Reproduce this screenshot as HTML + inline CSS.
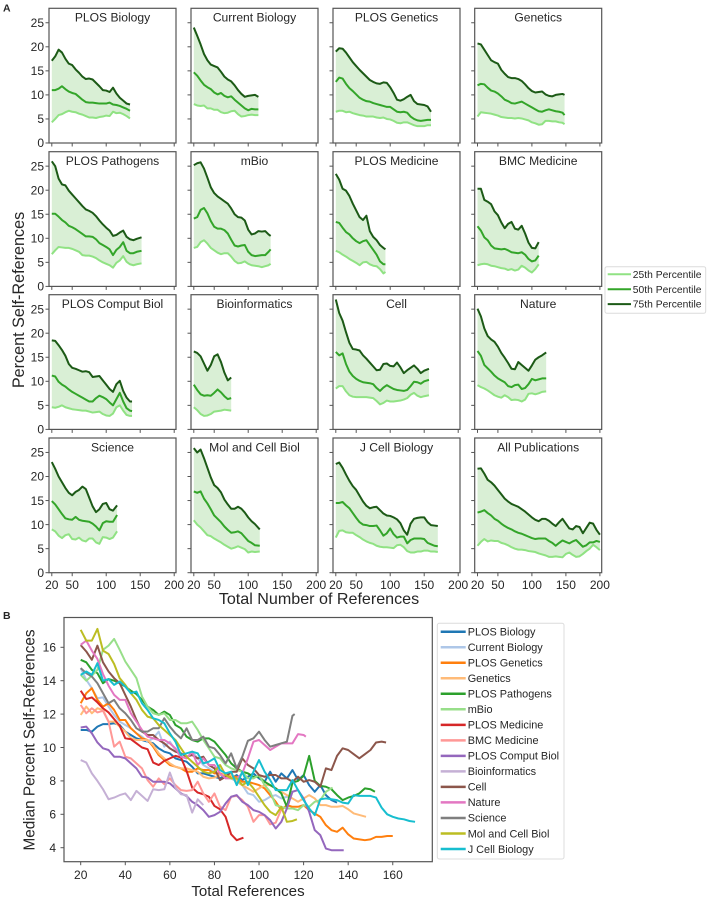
<!DOCTYPE html>
<html lang="en">
<head>
<meta charset="utf-8">
<title>Percent Self-References by Journal</title>
<style>
html,body{margin:0;padding:0;background:#fff;width:708px;height:899px;overflow:hidden}
svg{display:block;font-family:"Liberation Sans",Arial,sans-serif}
text{fill:#262626}
</style>
</head>
<body>
<svg id="figure" xmlns="http://www.w3.org/2000/svg" width="708" height="899" viewBox="0 0 708 899"></svg>
<script>
// ---------- DATA: panel A values sampled every 5 references starting at 20 ----------
const journalNames = ["PLOS Biology","Current Biology","PLOS Genetics","Genetics","PLOS Pathogens","mBio","PLOS Medicine","BMC Medicine","PLOS Comput Biol","Bioinformatics","Cell","Nature","Science","Mol and Cell Biol","J Cell Biology","All Publications"];
const lastReference = [135,115,160,148,152,133,93,110,138,75,157,121,116,117,170,200];
const panelXTicks = [20,50,100,150,200];
const panelYTicks = [0,5,10,15,20,25];
const medianXTicks = [20,40,60,80,100,120,140,160];
const medianYTicks = [4,6,8,10,12,14,16];
const percentileLabels = ["25th Percentile","50th Percentile","75th Percentile"];

const plosBiologyP75 = [17.1,18,19.4,18.8,17.5,16.5,16.2,15.3,14.6,13.8,13.3,13.4,13.2,12.5,11.8,11,10.9,10.6,11.5,10.3,9.4,8.8,8.2,8];
const plosBiologyP50 = [11,11,11.3,11.8,11.2,10.7,10.4,10.2,9.6,9,8.5,8.4,8.4,8.3,8.2,8.2,8.2,8.4,8,7.9,7.7,7.4,7.1,6.7];
const plosBiologyP25 = [4.3,5,5.8,6,6.4,6.7,6.5,6.4,6.1,5.9,5.6,5.3,5.3,5.2,5.4,5.5,5.7,5.6,6.5,6.2,6.3,6,5.6,5.1];

const currentBiologyP75 = [24,22.3,20.5,18.5,17.2,16.3,16,15.7,14.8,13.8,13.2,12.8,12,11,10.2,9.6,9.8,9.9,10,9.6];
const currentBiologyP50 = [14.7,14,13,12.1,11.6,11.2,10.5,10.1,10.4,9.8,9.5,9.7,9,8.4,7.8,7.2,6.8,7.1,7,7];
const currentBiologyP25 = [8.1,7.8,7.7,7.8,7.2,7.2,6.9,6.9,6.4,6.2,6.3,6.6,6.7,6,5.5,5.6,5.8,5.9,5.8,5.8];

const plosGeneticsP75 = [19,19.7,19.6,18.8,17.8,16.8,16,15.2,14.5,13.8,13.1,12.7,12.4,12.3,12.6,12.5,11.6,10.4,9,8.8,9.1,9.6,10,8.7,8.1,8,7.9,7.6,6.5];
const plosGeneticsP50 = [12.7,13.6,13.4,12.3,11.4,10.8,10.1,9.4,9,8.7,8.6,8.3,8.1,7.9,7.7,7.5,7.5,7,6.5,6.4,6.5,6.3,5.5,5,4.7,4.6,4.7,4.8,4.8];
const plosGeneticsP25 = [6.5,6.7,6.7,6.4,6.5,6.2,6,5.8,5.7,5.5,5.5,5.5,5.3,5.2,5.3,5,4.9,4.6,4.2,4.1,4.3,4.3,4,3.7,3.5,3.5,3.5,3.7,3.7];

const geneticsP75 = [20.7,20.5,19.4,18.3,17.2,16.8,16.5,15.2,14.4,13.7,13.5,13.5,13.3,12.9,12.2,11.4,10.8,10.5,10.6,10.7,10.1,9.8,9.7,10,10.1,10.2,10];
const geneticsP50 = [12,12.3,12.2,11.5,10.9,10.7,10.3,9.7,9,8.7,8.3,8.2,8.4,8.6,8.2,7.8,7.4,7,6.6,6.5,6.8,7,6.8,6.6,6.5,6.3,5.8];
const geneticsP25 = [5.5,6.4,6.3,6.2,6.1,5.9,5.7,5.4,5.3,5.2,5.2,5.1,5.2,5.1,4.9,4.7,4.3,4.1,3.8,3.9,4.6,4.6,4.5,4.5,4.3,4.2,3.9];

const plosPathogensP75 = [26,25,22.4,21.2,21,19.9,19.1,18.3,17.5,16.7,16,15.7,15.3,14.6,13.7,12.9,12.2,11.6,10.5,10.7,11.2,11.6,10.3,9.8,9.6,9.9,10.2];
const plosPathogensP50 = [15.1,15.1,14.5,13.8,13.3,12.6,12.3,11.9,11.4,10.9,10.4,10.4,10.3,9.8,9,8.6,8.2,7.7,6.5,7.6,8.2,9.2,7.4,6.9,6.9,7.2,7.4];
const plosPathogensP25 = [6.7,7.5,8.2,8.1,8,8,7.8,7.5,7.2,6.5,6.4,6.4,6.2,5.9,5.4,5,4.7,4.4,3.9,4.9,5.4,6.3,5.1,4.6,4.4,4.6,4.8];

const mBioP75 = [25.2,25.6,25.8,24.5,22.6,20.6,19.4,18.7,18.2,17.7,17.2,16.2,15,14.4,14.3,13.7,11.8,10.8,11,11.5,11.4,11.5,10.8,10.5];
const mBioP50 = [14.1,14.4,15.9,16.3,15.2,13.6,12.4,12,12,11.7,11,9.7,8.5,8.3,8.5,8.6,7.2,6.5,6.3,6.4,6.5,6.5,7.2,7.7];
const mBioP25 = [8,8.2,9.2,9.6,8.9,8,7.5,7,6.7,6.9,6.9,6.2,5.3,4.8,4.9,5.2,4.7,4.4,4.3,4.2,4,4.2,4.4,4.7];

const plosMedicineP75 = [23.4,22.2,20.3,19.9,18.8,17.2,15.8,14.4,13.8,14.7,11.5,10.3,9.6,8.6,8,7.7];
const plosMedicineP50 = [13.4,13.2,12.2,11.3,10.8,10,9.4,9,9.4,9.6,8.6,7.6,6.6,5.2,4.6,4.6];
const plosMedicineP25 = [7.4,7.1,6.6,6.2,5.7,5.3,4.9,4.4,5,5.1,4.6,4.3,4.2,3.6,2.7,3];

const bmcMedicineP75 = [20.3,20.3,18,17.6,17.1,15.6,14.8,13.3,12.1,13,13.4,12,11.8,12.6,11,9.1,8,7.9,9.2];
const bmcMedicineP50 = [12.5,11.6,10.2,9.6,8.5,7.9,7.8,7.7,7.8,7.5,7.1,7,6.9,7.1,6.6,5.7,5.2,5.4,6.4];
const bmcMedicineP25 = [4.4,4.6,4.7,4.6,4.3,4.2,4,3.8,3.7,3.4,3.6,3.3,3.5,4.3,3.9,3.3,2.9,3.6,4.6];

const plosComputBiolP75 = [18.5,18.4,17.5,16.5,15.3,13.6,12.8,12.6,12.3,12,12.1,11.9,10.9,11,11.1,10.2,9.3,8.4,7.8,9.4,10.1,8,6.6,5.8,5.8];
const plosComputBiolP50 = [11.2,11,9.9,9.3,8.9,8.3,7.8,7.4,7,6.6,6.2,5.8,5.8,6.5,7,6.7,6.3,5.6,5,6.3,7.6,5.8,4.4,3.9,3.8];
const plosComputBiolP25 = [4.6,4.5,4.7,5,4.6,4.4,4.2,4.1,4,3.9,3.9,3.7,3.5,3.6,3.7,3.2,2.9,2.8,3.3,4.6,5,3.9,3,2.8,2.8];

const bioinformaticsP75 = [16.2,15.9,15.2,13.7,12.2,13.4,15.2,15.6,14,11.8,10.2,10.8];
const bioinformaticsP50 = [9.3,8.2,7.3,7,7.1,7,7.6,8.3,7.7,6.9,6.3,6.5];
const bioinformaticsP25 = [4.6,4,3.2,2.8,2.9,3.2,3.7,3.8,3.9,4.1,4,3.9];

const cellP75 = [27,24.2,22.6,20.2,18,16.7,16.6,16.4,15.4,14.7,13.9,13.1,12.3,12.4,13.6,13.7,13.2,13.1,13.9,12.9,11.7,12.3,12.8,13.3,12.6,11.7,12.2,12.6];
const cellP50 = [16.1,15.4,15.8,13.6,12,11.1,10.5,10.1,9.8,9.7,9.6,9.4,8.6,8,8.7,9.2,8.8,8.4,8.2,8.1,8,8.2,9,9.9,9.8,9.5,10,10.3];
const cellP25 = [8.5,9,9,7.9,7.1,6.8,6.7,6.7,6.7,6.7,6.6,6.5,5.9,5.2,5.5,6,5.8,5.8,5.9,6,6.2,6.5,7.2,7.6,7,6.7,6.9,7.1];

const natureP75 = [25.1,23.5,21,19.4,18.7,18.2,17.2,15.9,14.9,13.8,12.6,12.5,14,13.4,12.8,12.2,13.3,14.5,15,15.4,16];
const natureP50 = [16.3,15.3,13.4,12.7,12,11.2,10.6,10.2,9.8,9,8.8,9.2,9.3,8.4,8.6,9.4,10.5,10.2,10.4,10.6,10.6];
const natureP25 = [9.2,8.8,8.5,8.1,7.6,7.1,6.8,6.6,7.1,6.7,6.1,6.2,6.1,5.8,6.2,7.4,7.5,7.3,7.5,7.8,7.9];

const scienceP75 = [23,21.6,20,18.8,17.6,16.6,16.1,16.8,17.2,17.9,17.4,15.6,13.8,12.6,13.2,14.3,14.5,13.2,12.9,14];
const scienceP50 = [14.9,14.2,13.2,12.2,11.3,11.1,11,11.6,11,10.8,10.7,10.6,10.2,9.6,8.8,10.3,10.7,10.6,10.6,12];
const scienceP25 = [9,8.6,7.7,7.2,7.8,8,7,6.9,7.3,6.7,6.5,7.1,7.1,6.3,6,7.4,7.3,7,7.3,8.6];

const molCellBiolP75 = [25.9,25,25.6,23.8,21.8,19.8,18.2,17.6,16.7,15.2,14.2,13.3,13.3,13.7,13.3,12.5,11.5,10.7,10.1,9];
const molCellBiolP50 = [16.9,16.6,16.9,15.4,14.4,13.2,11.9,11.2,10.5,9.6,8.9,8.3,8.4,8.6,8.2,7.4,6.6,6.2,5.7,5.6];
const molCellBiolP25 = [10.9,10,9.4,8.6,7.8,7.6,7.1,6.7,6.3,5.8,5.4,5,5.2,5.5,5.2,4.9,4.2,4.4,4.3,4.4];

const jCellBiologyP75 = [22.6,22.9,21.8,20.4,19.1,18,17.2,16,14.8,13.9,13.4,13.6,13.7,13,12.3,11.9,11.8,11.5,11.1,10.3,8.8,7.9,10.2,11.2,11.4,11.5,11.5,10.5,9.9,9.8,9.7];
const jCellBiologyP50 = [14.5,14.5,14.7,14,13.4,12.4,11.4,10.5,10,9.9,9.7,9.7,9.8,8.8,7.7,8.2,9.2,8,7.3,7.5,7.5,6.1,6.8,7.1,7.1,7.1,7,6.2,5.9,5.6,5.5];
const jCellBiologyP25 = [7.3,8.7,8.8,8.4,8.3,8.3,7.8,7.4,6.9,6.5,6.2,6,5.6,5.4,5.3,5.3,5.2,5.1,5.7,5.8,5.3,4.5,4.2,4.2,4.4,4.4,4.6,4.6,4.4,4.4,4.3];

const allPublicationsP75 = [21.6,21.7,20.6,19.3,18.8,18.1,17.2,16.3,15.4,14.8,14.3,14,13.7,13.2,12.7,12.1,11.5,11,10.7,11.2,11.2,10.8,10.2,9.7,10.5,11.2,10.2,9.2,9,9.7,9.5,8.2,9.3,10.4,10.2,8.9,7.9];
const allPublicationsP50 = [12.5,12.7,13,12.4,11.9,11.2,10.8,10.2,9.7,9.3,9,8.6,8.3,8.1,7.8,7.5,7.2,7,7.1,7.1,7.1,6.6,6.2,5.6,6.2,6.7,6.4,6.1,6.5,6.8,6.1,5.4,5.7,6.3,6.3,6.6,6.4];
const allPublicationsP25 = [5.6,6.4,7,6.5,6.7,6.6,6.6,6.2,6,5.7,5.3,5,4.8,4.8,4.7,4.5,4.4,4.3,4,3.8,3.6,3.3,3.3,3.4,3.3,3.2,3.9,4.2,3.7,3.3,3.4,3.9,4.5,5,5.8,5.3,4.7];

const seriesP75 = [plosBiologyP75,currentBiologyP75,plosGeneticsP75,geneticsP75,plosPathogensP75,mBioP75,plosMedicineP75,bmcMedicineP75,plosComputBiolP75,bioinformaticsP75,cellP75,natureP75,scienceP75,molCellBiolP75,jCellBiologyP75,allPublicationsP75];
const seriesP50 = [plosBiologyP50,currentBiologyP50,plosGeneticsP50,geneticsP50,plosPathogensP50,mBioP50,plosMedicineP50,bmcMedicineP50,plosComputBiolP50,bioinformaticsP50,cellP50,natureP50,scienceP50,molCellBiolP50,jCellBiologyP50,allPublicationsP50];
const seriesP25 = [plosBiologyP25,currentBiologyP25,plosGeneticsP25,geneticsP25,plosPathogensP25,mBioP25,plosMedicineP25,bmcMedicineP25,plosComputBiolP25,bioinformaticsP25,cellP25,natureP25,scienceP25,molCellBiolP25,jCellBiologyP25,allPublicationsP25];

// ---------- DATA: panel B medians sampled every 2.5 references starting at 20 ----------
const medianPlosBiology = [11.05,11.05,10.95,11.25,11.4,11.4,11.45,11.35,10.95,10.75,10.55,10.45,10.35,10.25,9.95,9.75,9.65,9.35,9.25,9.15,8.85,8.45,8.45,8.35,8.25,8.15,8.35,8.15,8.35,8.05,8.25,8.45,8.15,7.95,8.55,7.95,8.45,8.15,8.65,8.05,8.35,7.75,7.35,7.75,7.15,6.85,6.7];
const medianCurrentBiology = [14.75,14.05,13.55,12.95,13,12.45,11.95,11.55,11.35,11.15,10.85,10.65,10.35,10.55,10.95,10.05,10.35,9.85,9.45,9.35,9.75,9.35,8.95,8.75,8.55,8.35,8.35,8.15,7.95,7.75,7.25,7.15,6.75,6.85,7.05,7.15,6.95,7.05,6.95];
const medianPlosGenetics = [12.65,13.25,13.55,12.85,12.45,12.65,12.25,11.65,11.65,11.15,10.85,10.55,10.45,10.05,9.55,9.25,8.95,8.85,8.75,8.55,8.55,8.75,8.65,8.65,8.45,8.45,8.35,8.25,8.25,7.95,7.95,7.85,7.75,7.55,7.15,6.75,6.25,6.55,6.45,6.45,6.55,6.25,6.05,5.85,5.35,5.05,4.95,5.2,4.8,4.55,4.5,4.45,4.5,4.65,4.65,4.7,4.7];
const medianGenetics = [11.95,12.45,12.05,12.35,12.25,11.55,11.55,11.25,10.95,10.55,10.45,10.45,10.45,10.15,9.65,9.35,9.05,8.85,8.75,8.75,8.65,8.55,8.25,8.15,8.2,8.35,8.45,8.35,7.95,7.75,7.55,7.35,7.55,7.75,7.75,7.55,7.35,7.15,6.95,6.75,6.95,7.15,6.95,6.55,6.55,6.45,6.45,6.5,6.3,6.05,5.85];
const medianPlosPathogens = [15.25,15.1,14.65,14.45,13.85,14.1,14,13.85,13.65,13.4,13.2,12.85,12.45,12.25,11.95,12.15,11.95,11.35,11.15,10.65,10.45,10.35,10.55,10.55,10.35,9.95,9.55,9.05,8.75,8.55,8.45,8.25,8.25,7.95,7.75,7.55,7.25,6.45,7.9,8,8.3,9.5,8,7.7,7.65,7.5,7.15,6.85,7,7.1,7.25,7.55,7.5,7.35];
const medianMBio = [14.35,14,14.3,14.65,15.85,16.1,16.5,15.85,15.15,14.65,14.15,13.05,12.45,12.05,11.95,12.05,11.65,11.65,11.45,11.45,11.55,11.05,10.45,9.95,9.45,9.35,8.95,8.75,8.65,8.55,8.15,8.15,8.35,7.75,7.35,6.55,6.45,6.35,6.35,6.25,6.55,6.45,6.75,6.85,7.35,7.6];
const medianPlosMedicine = [13.4,12.9,13,12.7,12.35,12.1,11.7,11.3,10.55,10.5,10.25,10,9.9,9.1,8.95,9.2,9.35,9.5,9.4,8.6,7.6,7.3,7.2,7.05,6.5,6.3,5.85,4.8,4.45,4.6];
const medianBmcMedicine = [12.55,12.05,12.35,12.1,12.2,11.55,10.05,10.35,9.45,9.35,9.05,8.75,8.05,7.65,8.15,7.8,8.15,7.75,7.45,7.4,7.45,7.95,7.25,6.75,7.25,6.45,6.25,7.05,7.1,6.85,6.45,5.55,5.95,5.95,5.4,5.5,6.3];
const medianPlosComputBiol = [11.2,11.25,10.85,10.3,9.95,9.85,9.45,9.45,9.35,9.05,8.75,8.25,8.2,7.95,7.95,7.95,7.85,7.55,7.25,7.1,6.75,6.55,6.25,5.85,5.95,6.15,6.65,7.05,7.15,6.75,6.55,6.25,6.15,5.95,5.65,5.15,5.55,6.35,7.35,7.45,6.95,6.15,5.05,4.75,3.95,3.85,3.85,3.85];
const medianBioinformatics = [9.25,9.1,8.45,8,7.5,6.9,7,7.15,7.25,6.85,7.4,7.1,6.8,7.5,7.45,7.5,8.5,7.6,7.2,7.15,6.1,6.9,6.55];
const medianCell = [16.13,15.75,15.25,16.1,15.1,14.55,14.15,13.85,13.15,12.45,11.65,10.95,10.75,10.75,10.45,10.25,9.95,9.75,9.65,9.45,9.55,9.35,9.45,8.95,8.75,8.05,8.25,8.55,8.55,9.35,8.95,8.75,8.35,8.25,8.35,8.35,8.15,8.15,7.95,8.25,7.95,8.05,7.95,7.65,8.75,8.65,9.5,9.95,9.85,9.6,9.35,9.6,9.85,10.3,10.35,10.3];
const medianNature = [16.15,16.4,15.8,15.3,14.4,13.7,13.15,12.85,12.85,12.05,11.55,11.05,10.65,10.55,10.45,10.45,10.25,9.95,9.45,9.35,9.75,8.95,9.35,8.95,8.95,8.45,8.15,8.15,8.15,8.45,9.35,10.35,10.45,10.15,9.85,10.05,10.25,10.25,10.25,10.8,10.75,10.65];
const medianScience = [14.75,14.45,14.25,13.85,13.25,12.65,12.85,12.35,12.05,11.65,11.15,10.95,10.95,11.15,11.15,11.75,11.25,10.85,10.55,11.15,10.45,10.45,10.65,10.05,9.95,9.55,9.05,9.65,8.75,9.45,10.4,10.55,10.95,10.45,10.05,10.15,10.25,10.35,11.9,12];
const medianMolCellBiol = [17.05,16.4,16.4,17.1,15.8,15.6,15,14.15,13.75,13.25,12.85,12.25,11.85,11.75,11.35,11.05,10.75,10.45,9.95,9.45,9.15,8.85,8.55,8.45,8.55,8.95,8.35,8.15,8.15,7.75,7.95,7.55,7.05,6.55,6.15,5.95,6.45,5.55,5.6,5.7];
const medianJCellBiology = [14.35,14.55,14.35,15.05,14,14.1,13.75,13.95,13.65,13.25,13.35,12.65,12.25,11.75,11.65,11.45,10.85,10.35,9.55,9.65,9.75,9.65,9.05,9.15,9.35,8.65,8.45,8.55,7.75,8.55,7.75,8.55,9.25,8.55,8.05,7.45,7.45,7.45,8.05,7.45,6.85,6.35,5.95,6.9,6.95,6.9,6.85,6.7,6.65,7.15,7.1,7.1,7.1,7,6.4,6,5.85,5.75,5.7,5.6,5.55];
const medianSeries = [medianPlosBiology,medianCurrentBiology,medianPlosGenetics,medianGenetics,medianPlosPathogens,medianMBio,medianPlosMedicine,medianBmcMedicine,medianPlosComputBiol,medianBioinformatics,medianCell,medianNature,medianScience,medianMolCellBiol,medianJCellBiology];

// ---------- LAYOUT AND STYLE ----------
const svg = document.getElementById('figure');
const NS = 'http://www.w3.org/2000/svg';
const C25 = '#90e283', C50 = '#33a529', C75 = '#1c5a16', FILL = '#d9efd5';
const AXIS = '#555555';
const COLS = [49, 191, 333, 474.7];
const ROWS = [8.3, 151.7, 294.7, 438];
const PW = 127, PH = 134.7;
const MEDIAN_COLORS = ['#1f77b4','#aec7e8','#ff7f0e','#ffbb78','#2ca02c','#98df8a','#d62728','#ff9896','#9467bd','#c5b0d5','#8c564b','#e377c2','#7f7f7f','#bcbd22','#17becf'];

function make(tag, attrs, parent, content) {
  const el = document.createElementNS(NS, tag);
  for (const k in attrs) el.setAttribute(k, attrs[k]);
  if (content !== undefined) el.textContent = content;
  parent.appendChild(el);
  return el;
}
function slug(s) { return s.toLowerCase().replace(/[^a-z0-9]+/g, '-'); }
function xAt(i, values, last, step) { return i === values.length - 1 ? last : 20 + step * i; }
function pathFrom(values, last, step, sx, sy) {
  return values.map((v, i) => (i ? 'L' : 'M') + sx(xAt(i, values, last, step)).toFixed(2) + ' ' + sy(v).toFixed(2)).join('');
}
function tick(parent, x1, y1, x2, y2, name) {
  const t = make('line', {x1: x1, y1: y1, x2: x2, y2: y2, stroke: AXIS, 'stroke-width': 1}, parent);
  
  
  return t;
}

// ---------- PANEL A ----------
const labelA = make('text', {x: 3, y: 11.5, 'font-size': 10.5, 'font-weight': 'bold'}, svg, 'A');



journalNames.forEach(function (title, p) {
  const col = p % 4, row = Math.floor(p / 4);
  const left = COLS[col], top = ROWS[row], bottom = top + PH;
  const sx = v => left + 2.8 + (v - 20) * 0.68;
  const sy = v => bottom - v * 4.81;
  const g = make('g', {}, svg);
  
  

  const last = lastReference[p];
  const hi = seriesP75[p], mid = seriesP50[p], lo = seriesP25[p];
  const upper = hi.map((v, i) => sx(xAt(i, hi, last, 5)).toFixed(2) + ',' + sy(v).toFixed(2));
  const lower = lo.map((v, i) => sx(xAt(i, lo, last, 5)).toFixed(2) + ',' + sy(v).toFixed(2)).reverse();
  const band = make('polygon', {points: upper.concat(lower).join(' '), fill: FILL, stroke: 'none'}, g);
  
  

  const l25 = make('path', {d: pathFrom(lo, last, 5, sx, sy), fill: 'none', stroke: C25, 'stroke-width': 2, 'stroke-linejoin': 'round'}, g);
  
  
  const l50 = make('path', {d: pathFrom(mid, last, 5, sx, sy), fill: 'none', stroke: C50, 'stroke-width': 2, 'stroke-linejoin': 'round'}, g);
  
  
  const l75 = make('path', {d: pathFrom(hi, last, 5, sx, sy), fill: 'none', stroke: C75, 'stroke-width': 2, 'stroke-linejoin': 'round'}, g);
  
  

  const frame = make('rect', {x: left, y: top, width: PW, height: PH, fill: 'none', stroke: AXIS, 'stroke-width': 1.2}, g);
  
  

  panelYTicks.forEach(function (v) {
    tick(g, left - 3.5, sy(v), left, sy(v), 'y-tick');
    if (col === 0) {
      const t = make('text', {x: left - 5, y: sy(v) + 4.2, 'font-size': 12, 'text-anchor': 'end'}, g, String(v));
      
      
    }
  });
  panelXTicks.forEach(function (v) {
    tick(g, sx(v), bottom, sx(v), bottom + 3.5, 'x-tick');
    if (row === 3) {
      const t = make('text', {x: sx(v), y: 589, 'font-size': 12, 'text-anchor': 'middle'}, g, String(v));
      
      
    }
  });

  const t = make('text', {x: left + PW / 2, y: top + 13.4, 'font-size': 12.1, 'text-anchor': 'middle'}, g, title);
  
  
});

const yTitleA = make('text', {x: 24, y: 300, 'font-size': 16.2, 'text-anchor': 'middle', transform: 'rotate(-90 24 300)'}, svg, 'Percent Self-References');


const xTitleA = make('text', {x: 319, y: 604, 'font-size': 16.1, 'text-anchor': 'middle'}, svg, 'Total Number of References');



// Percentile legend
const legendA = make('g', {}, svg);


make('rect', {x: 605, y: 266.7, width: 100.7, height: 46.6, rx: 2, fill: '#fff', stroke: '#dcdcdc', 'stroke-width': 1}, legendA);
[C25, C50, C75].forEach(function (c, i) {
  const ly = 274.3 + i * 14.9;
  const sw = make('line', {x1: 607.7, x2: 631, y1: ly, y2: ly, stroke: c, 'stroke-width': 2}, legendA);
  
  
  const tx = make('text', {x: 632.8, y: ly + 3.6, 'font-size': 10.3}, legendA, percentileLabels[i]);
  
  
});

// ---------- PANEL B ----------
const labelB = make('text', {x: 3, y: 619, 'font-size': 10.5, 'font-weight': 'bold'}, svg, 'B');



const bx = v => 80.7 + (v - 20) * 2.229;
const by = v => 847.7 - (v - 4) * 16.7;
const medianChart = make('g', {}, svg);



medianSeries.forEach(function (values, p) {
  const line = make('path', {d: pathFrom(values, lastReference[p], 2.5, bx, by), fill: 'none', stroke: MEDIAN_COLORS[p], 'stroke-width': 2, 'stroke-linejoin': 'round'}, medianChart);
  
  
});
const frameB = make('rect', {x: 64, y: 617.5, width: 368.3, height: 244.2, fill: 'none', stroke: AXIS, 'stroke-width': 1.2}, medianChart);


medianYTicks.forEach(function (v) {
  tick(medianChart, 60.5, by(v), 64, by(v), 'y-tick');
  const t = make('text', {x: 56, y: by(v) + 4.3, 'font-size': 12, 'text-anchor': 'end'}, medianChart, String(v));
  
  
});
medianXTicks.forEach(function (v) {
  tick(medianChart, bx(v), 861.7, bx(v), 865.2, 'x-tick');
  const t = make('text', {x: bx(v), y: 879, 'font-size': 12, 'text-anchor': 'middle'}, medianChart, String(v));
  
  
});
const yTitleB = make('text', {x: 34.5, y: 740, 'font-size': 15.3, 'text-anchor': 'middle', transform: 'rotate(-90 34.5 740)'}, svg, 'Median Percent Self-References');


const xTitleB = make('text', {x: 248, y: 896, 'font-size': 15.1, 'text-anchor': 'middle'}, svg, 'Total References');



const legendB = make('g', {}, svg);


make('rect', {x: 437.3, y: 623.3, width: 126.7, height: 235.7, rx: 2, fill: '#fff', stroke: '#dcdcdc', 'stroke-width': 1}, legendB);
journalNames.slice(0, 15).forEach(function (title, p) {
  const ly = 631.7 + p * 15.52;
  const sw = make('line', {x1: 440.7, x2: 465.7, y1: ly, y2: ly, stroke: MEDIAN_COLORS[p], 'stroke-width': 2.5}, legendB);
  
  
  const tx = make('text', {x: 467.7, y: ly + 3.8, 'font-size': 10.9}, legendB, title);
  
  
});
</script>
</body>
</html>
